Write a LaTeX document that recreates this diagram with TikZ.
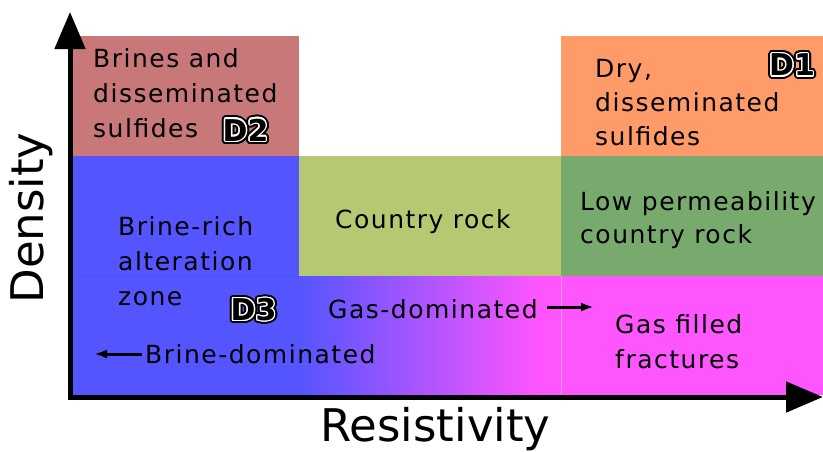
\documentclass[tikz,border=0pt]{standalone}
\usepackage{fontspec}
\setmainfont{DejaVu Sans}[LetterSpace=6]
\newfontfamily\bigfont{DejaVu Sans}
\newfontfamily\dInner{DejaVu Sans Bold}
\usetikzlibrary{arrows.meta,calc}
\definecolor{brinebox}{RGB}{200,120,120}
\definecolor{drybox}{RGB}{255,155,105}
\definecolor{country}{RGB}{183,200,115}
\definecolor{lowperm}{RGB}{120,170,110}
\definecolor{blueA}{RGB}{85,85,255}
\definecolor{pinkA}{RGB}{255,85,255}
\newcommand{\outlbl}[3]{%
  \foreach \ang in {0,15,...,345}{\node[dlab,text=black] at ($(#2)+(\ang:3.4)$) {#3};}
  \foreach \ang in {0,30,...,330}{\node[dlab,text=white] at ($(#2)+(\ang:1.4)$) {#3};}
  \node[dlab,text=black] (#1) at (#2) {#3};
}
\begin{document}
\begin{tikzpicture}[x=1pt,y=-1pt,
  lbl/.style={anchor=base west, inner sep=0, font=\fontsize{25}{30}\selectfont},
  dlab/.style={inner sep=0, font=\dInner\fontsize{30}{34}\selectfont},
  axislbl/.style={inner sep=0, font=\bigfont\fontsize{45}{50}\selectfont},
  axisline/.style={line width=5pt, line join=miter, {Triangle[length=37pt,width=30pt]}-{Triangle[length=37pt,width=30pt]}},
  smallarrow/.style={line width=3pt, -{Latex[length=13pt,width=9pt]}}]
\useasboundingbox (0,0) rectangle (823,451);
% regions
\fill[brinebox] (70,36) rectangle (299,156);
\fill[drybox] (561,36) rectangle (823,156);
\fill[blueA] (70,156) rectangle (300.5,395);
\fill[country] (299,156) rectangle (561,276);
\fill[lowperm] (561,156) rectangle (823,276);
\shade[left color=blueA,right color=pinkA] (300,276) rectangle (540,395);
\fill[pinkA] (539.5,276) rectangle (823,395);
\draw[white, opacity=0.35, line width=0.7pt] (561.5,276) -- (561.5,395);
\draw[black, opacity=0.05, line width=0.7pt] (72,276.5) -- (299,276.5);
% axes
\coordinate (O) at (70,397);
\coordinate (ytip) at (70,12);
\coordinate (xtip) at (823,397);
\draw[axisline] (ytip) -- (O) -- (xtip);
\node[axislbl, rotate=90] (dens) at (31,218) {Density};
\node[axislbl, anchor=base] (resi) at (435.5,441) {Resistivity};
% texts
\node[lbl] (b1) at (93,67) {Brines and};
\node[lbl] (b2) at (93,102) {disseminated};
\node[lbl] (b3) at (93,137) {sulfides};
\node[lbl] (d1) at (595,77) {Dry,};
\node[lbl] (d2) at (595,111) {disseminated};
\node[lbl] (d3) at (595,145) {sulfides};
\node[lbl] (cr) at (335,228) {Country rock};
\node[lbl] (lp1) at (580,210) {Low permeability};
\node[lbl] (lp2) at (580,243) {country rock};
\node[lbl] (br1) at (118,235) {Brine-rich};
\node[lbl] (br2) at (118,270) {alteration};
\node[lbl] (br3) at (118,305) {zone};
\node[lbl] (gf1) at (615,333) {Gas filled};
\node[lbl] (gf2) at (615,368) {fractures};
\node[lbl] (gd) at (328,318) {Gas-dominated};
\node[lbl] (bd) at (145,363) {Brine-dominated};
% small arrows
\coordinate (gdA) at (547,307);
\coordinate (gdB) at (594,307);
\coordinate (bdA) at (142,354);
\coordinate (bdB) at (94,354);
\draw[smallarrow] (gdA) -- (gdB);
\draw[smallarrow] (bdA) -- (bdB);
% outlined labels
\outlbl{lD1}{792,65}{D1}
\outlbl{lD2}{245.5,130}{D2}
\outlbl{lD3}{253.5,309.5}{D3}
\end{tikzpicture}
\end{document}
